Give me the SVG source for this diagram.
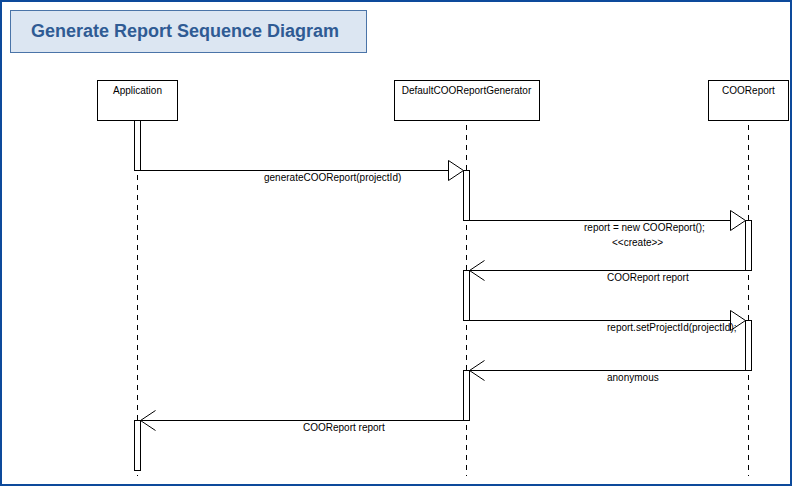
<svg xmlns="http://www.w3.org/2000/svg" width="793" height="486" viewBox="0 0 793 486">
<style>
  .frame { fill: #ffffff; stroke: #0d4a9b; stroke-width: 2; }
  .title-box { fill: #dce6f2; stroke: #4a74a8; stroke-width: 1; }
  .title { font-family: "Liberation Sans", Arial, sans-serif; font-size: 18px; font-weight: bold; fill: #2f5b94; }
  .obj { fill: #ffffff; stroke: #000000; stroke-width: 1; }
  .obj-label { font-family: "Liberation Sans", Arial, sans-serif; font-size: 10px; fill: #000000; text-anchor: middle; }
  .lifeline { stroke: #000000; stroke-width: 1; stroke-dasharray: 5 5; fill: none; }
  .bar { fill: #ffffff; stroke: #000000; stroke-width: 1; }
  .msg { stroke: #000000; stroke-width: 1; fill: none; }
  .head { fill: #ffffff; stroke: #000000; stroke-width: 1; }
  .open { fill: none; stroke: #000000; stroke-width: 1; }
  .msg-label { font-family: "Liberation Sans", Arial, sans-serif; font-size: 10px; fill: #000000; }
</style>
<rect class="frame" x="1" y="1" width="790" height="484"/>
<g id="title">
  <rect class="title-box" x="10.5" y="10.5" width="356" height="42"/>
  <text class="title" x="31" y="37">Generate Report Sequence Diagram</text>
</g>
<g id="lifelines">
  <line class="lifeline" x1="137.5" y1="125" x2="137.5" y2="476"/>
  <line class="lifeline" x1="466.5" y1="125" x2="466.5" y2="476"/>
  <line class="lifeline" x1="748.5" y1="125" x2="748.5" y2="476"/>
</g>
<g id="application">
  <rect class="obj" x="97.5" y="80.5" width="80" height="40"/>
  <text class="obj-label" x="137.5" y="94">Application</text>
  <rect class="bar" x="134.5" y="120.5" width="6" height="50"/>
  <rect class="bar" x="134.5" y="420.5" width="6" height="50"/>
</g>
<g id="generator">
  <rect class="obj" x="394.5" y="80.5" width="145" height="40"/>
  <text class="obj-label" x="466.5" y="94">DefaultCOOReportGenerator</text>
  <rect class="bar" x="463.5" y="170.5" width="6" height="50"/>
  <rect class="bar" x="463.5" y="270.5" width="6" height="50"/>
  <rect class="bar" x="463.5" y="370.5" width="6" height="50"/>
</g>
<g id="cooreport">
  <rect class="obj" x="708.5" y="80.5" width="80" height="40"/>
  <text class="obj-label" x="748.5" y="94">COOReport</text>
  <rect class="bar" x="745.5" y="220.5" width="6" height="50"/>
  <rect class="bar" x="745.5" y="320.5" width="6" height="50"/>
</g>
<g id="connectors">
  <line class="msg" x1="140.5" y1="170.5" x2="448.5" y2="170.5"/>
  <polygon class="head" points="448.5,160.5 463.5,170.5 448.5,180.5"/>
  <text class="msg-label" x="264" y="181">generateCOOReport(projectId)</text>

  <line class="msg" x1="469.5" y1="220.5" x2="730.5" y2="220.5"/>
  <polygon class="head" points="730.5,210.5 745.5,220.5 730.5,230.5"/>
  <text class="msg-label" x="584" y="231">report = new COOReport();</text>
  <text class="msg-label" x="612" y="246">&lt;&lt;create&gt;&gt;</text>

  <line class="msg" x1="745.5" y1="270.5" x2="469.5" y2="270.5"/>
  <polyline class="open" points="484.5,260.5 469.5,270.5 484.5,280.5"/>
  <text class="msg-label" x="607" y="281">COOReport report</text>

  <line class="msg" x1="469.5" y1="320.5" x2="730.5" y2="320.5"/>
  <text class="msg-label" x="607" y="331">report.setProjectId(projectId);</text>
  <polygon class="head" points="730.5,310.5 745.5,320.5 730.5,330.5" style="fill:none"/>

  <line class="msg" x1="745.5" y1="370.5" x2="469.5" y2="370.5"/>
  <polyline class="open" points="484.5,360.5 469.5,370.5 484.5,380.5"/>
  <text class="msg-label" x="607" y="381">anonymous</text>

  <line class="msg" x1="463.5" y1="420.5" x2="140.5" y2="420.5"/>
  <polyline class="open" points="155.5,410.5 140.5,420.5 155.5,430.5"/>
  <text class="msg-label" x="303" y="431">COOReport report</text>
</g>
</svg>
